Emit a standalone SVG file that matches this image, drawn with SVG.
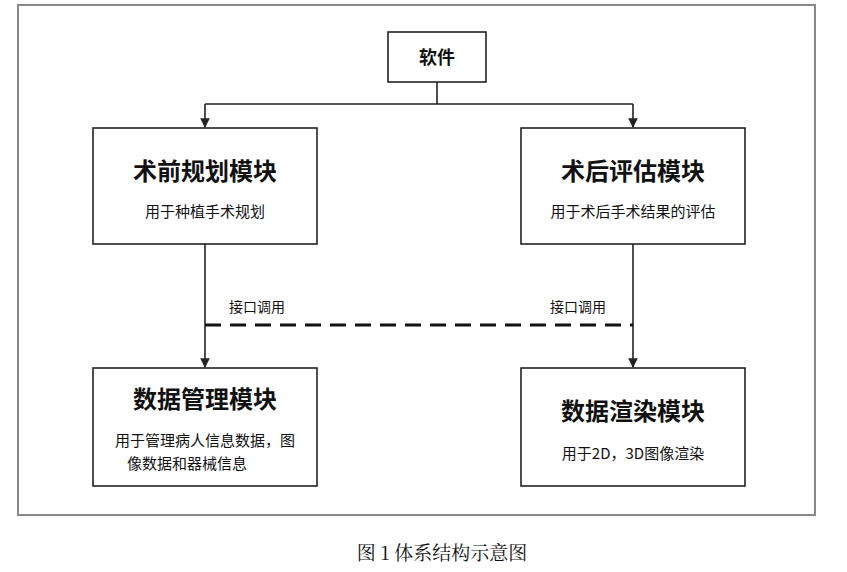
<svg xmlns="http://www.w3.org/2000/svg" width="847" height="572" viewBox="0 0 847 572">
<defs>
<style>
.box{fill:#fff;stroke:#222;stroke-width:1.6}
.t{font-family:"Noto Sans CJK SC",sans-serif;fill:#111;text-anchor:middle}
.h{font-size:24px;font-weight:bold}
.s{font-size:15px}
.l{font-size:14px}
.c{stroke:#222;stroke-width:1.6;fill:none}
</style>
<marker id="a" viewBox="0 0 10 10" refX="9" refY="5" markerWidth="6" markerHeight="6" orient="auto"><path d="M0,0L10,5L0,10z" fill="#222"/></marker>
</defs>
<rect width="847" height="572" fill="#fff"/>
<rect x="18" y="5" width="797" height="510" fill="none" stroke="#888" stroke-width="2"/>
<g id="connectors">
<path class="c" d="M437,82V104M205,104H633"/>
<path class="c" d="M205,104V127" marker-end="url(#a)"/>
<path class="c" d="M633,104V127" marker-end="url(#a)"/>
<path class="c" d="M205,244V367" marker-end="url(#a)"/>
<path class="c" d="M633,244V367" marker-end="url(#a)"/>
<path d="M205,325H633" stroke="#111" stroke-width="3" stroke-dasharray="16,9"/>
<text class="t l" x="257" y="312">接口调用</text>
<text class="t l" x="578" y="312">接口调用</text>
</g>
<g id="software"><rect class="box" x="388" y="32" width="98" height="50"/><text class="t" x="437" y="64" font-size="18" font-weight="bold">软件</text></g>
<g id="pre"><rect class="box" x="93" y="128" width="224" height="116"/><text class="t h" x="205" y="180">术前规划模块</text><text class="t s" x="205" y="217">用于种植手术规划</text></g>
<g id="post"><rect class="box" x="521" y="128" width="224" height="116"/><text class="t h" x="633" y="180">术后评估模块</text><text class="t s" x="633" y="217">用于术后手术结果的评估</text></g>
<g id="data"><rect class="box" x="93" y="368" width="224" height="118"/><text class="t h" x="205" y="408">数据管理模块</text><text class="t s" x="205" y="446">用于管理病人信息数据，图</text><text class="t s" x="187" y="469">像数据和器械信息</text></g>
<g id="render"><rect class="box" x="521" y="368" width="224" height="118"/><text class="t h" x="633" y="420">数据渲染模块</text><text class="t s" x="633" y="459">用于2D，3D图像渲染</text></g>
<text x="442" y="560" text-anchor="middle" font-family="Noto Serif CJK SC,Noto Sans CJK SC,serif" font-size="19" fill="#111">图 1  体系结构示意图</text>
</svg>
